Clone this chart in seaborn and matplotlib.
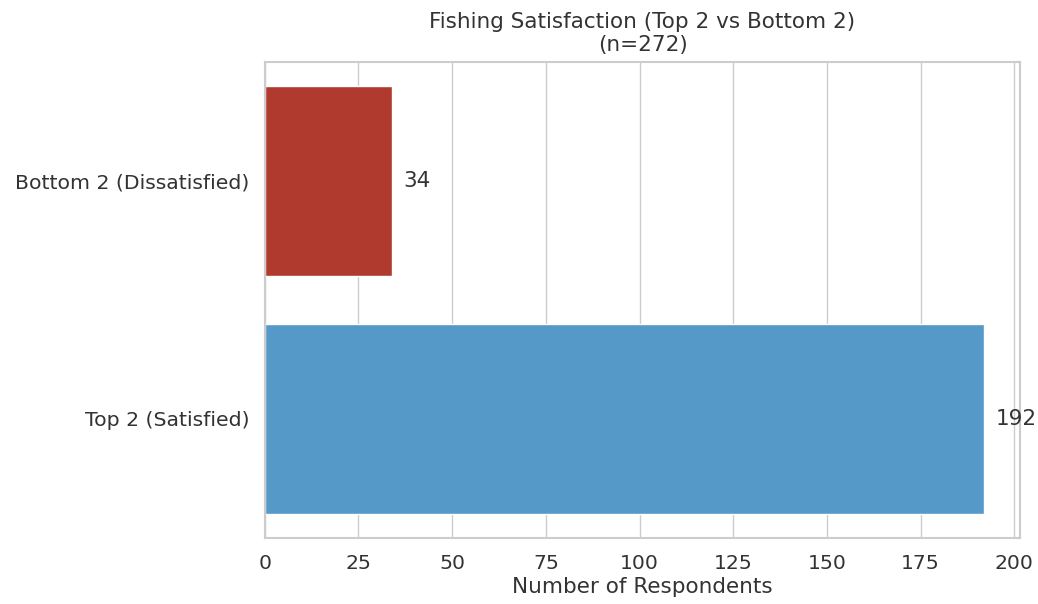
import matplotlib
matplotlib.use("Agg")
import matplotlib.pyplot as plt
import seaborn as sns
import pandas as pd

categories = ["Bottom 2 (Dissatisfied)", "Top 2 (Satisfied)"]
counts = [34, 192]
colors = ["#b03a2e", "#5499c7"]
title = "Fishing Satisfaction (Top 2 vs Bottom 2)\n(n=272)"

sns.set_theme(style="whitegrid", font_scale=1.33)
plt.rcParams['font.family'] = ['DejaVu Sans']

df = pd.DataFrame({"category": categories, "count": counts})
fig, ax = plt.subplots(figsize=(10.38, 6.04), dpi=100)
sns.barplot(data=df, y="category", x="count", hue="category",
            palette=dict(zip(categories, colors)), orient="h",
            width=0.8, saturation=1, legend=False, ax=ax)
for c in ax.containers:
    ax.bar_label(c, padding=8, fontsize=15.5, color="#333333")
ax.set_xlim(0, 201.6)
ax.set_xticks(range(0, 201, 25))
ax.tick_params(axis="y", pad=5)
ax.tick_params(axis="x", pad=6)
ax.set_title(title, fontsize=15.5, pad=8, color="#333333")
ax.set_xlabel("Number of Respondents", fontsize=15.5, labelpad=3, color="#333333")
ax.set_ylabel("")
for lab in ax.get_xticklabels() + ax.get_yticklabels():
    lab.set_color("#333333")
for s in ax.spines.values():
    s.set_color("#cccccc")
    s.set_linewidth(1.5)
fig.subplots_adjust(left=0.255, right=0.983, top=0.897, bottom=0.11)
fig.savefig("out.png", dpi=100)
